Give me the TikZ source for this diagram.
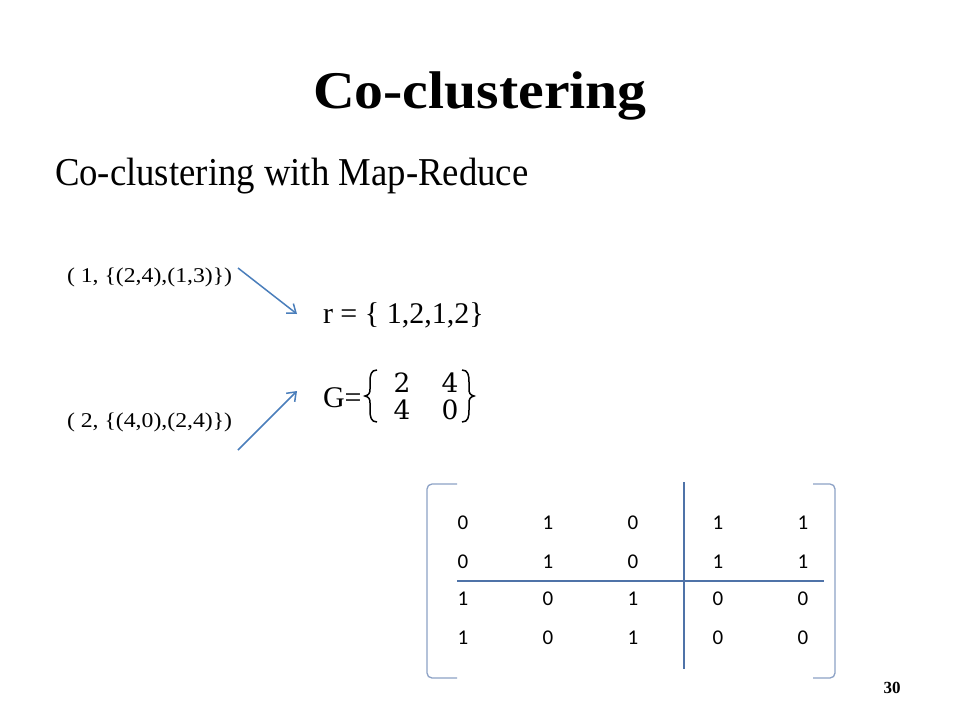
\documentclass[tikz,border=0pt]{standalone}
\usepackage{fontspec}
\setmainfont{Liberation Serif}
\newfontfamily\calib{Carlito}
\newfontfamily\gdig{DejaVu Serif}
\usetikzlibrary{arrows.meta}
\definecolor{arrowblue}{HTML}{4A7EBB}
\definecolor{lineblue}{HTML}{4F73A8}
\definecolor{brackblue}{HTML}{8DA2C6}
\tikzset{
  txt/.style={inner sep=0pt, outer sep=0pt},
  mapar/.style={draw=arrowblue, line width=1.5pt, -{Straight Barb[length=8pt,width=12pt,line width=1.5pt]}},
  cell/.style={inner sep=0pt, font=\calib\fontsize{21}{24}\selectfont},
  gcell/.style={inner sep=0pt, text height=20pt, text depth=0pt, font=\gdig\fontsize{26.5}{28}\selectfont},
  divline/.style={draw=lineblue, line width=2pt},
  brack/.style={draw=brackblue, line width=1.3pt, rounded corners=5pt},
  brace/.style={draw=black, line width=1.5pt}
}
\begin{document}
\begin{tikzpicture}[x=1pt,y=-1pt]
\useasboundingbox[fill=white] (0,0) rectangle (960,720);

\node[txt, anchor=base] (title) at (480,108)
  {\scalebox{1.09}[1]{\fontsize{53}{56}\selectfont\bfseries Co-clustering}};
\node[txt, anchor=base west] (sub) at (55,185)
  {\scalebox{0.93}[1]{\fontsize{39.5}{44}\selectfont Co-clustering with Map-Reduce}};

\node[txt, anchor=base west] (in1) at (67,282)
  {\scalebox{1.13}[1]{\fontsize{21}{24}\selectfont ( 1, \{(2,4),(1,3)\})}};
\node[txt, anchor=base west] (in2) at (67,427)
  {\scalebox{1.13}[1]{\fontsize{21}{24}\selectfont ( 2, \{(4,0),(2,4)\})}};

\node[txt, anchor=base west] (r) at (323,323)
  {\fontsize{30}{33}\selectfont r = \{ 1,2,1,2\}};
\node[txt, anchor=base west] (G) at (323,407)
  {\fontsize{30}{33}\selectfont G=};

\coordinate (a1s) at (238,268);
\coordinate (a1e) at (297,314);
\coordinate (a2s) at (238,450);
\coordinate (a2e) at (297,391);
\draw[mapar] (a1s) -- (a1e);
\draw[mapar] (a2s) -- (a2e);

% G matrix
\node[gcell, anchor=base] (g11) at (402,392) {2};
\node[gcell, anchor=base] (g12) at (450,392) {4};
\node[gcell, anchor=base] (g21) at (402,419) {4};
\node[gcell, anchor=base] (g22) at (450,419) {0};
\draw[brace] (377,370) .. controls (371,370) and (370,375) .. (370,382) -- (370,389)
  .. controls (370,393) and (369,395) .. (365,396)
  .. controls (369,397) and (370,399) .. (370,403) -- (370,410)
  .. controls (370,417) and (371,422) .. (377,422);
\draw[brace] (462,370) .. controls (468,370) and (469,375) .. (469,382) -- (469,389)
  .. controls (469,393) and (470,395) .. (474,396)
  .. controls (470,397) and (469,399) .. (469,403) -- (469,410)
  .. controls (469,417) and (468,422) .. (462,422);

% big matrix
\draw[brack] (457,484) -- (427,484) -- (427,678) -- (457,678);
\draw[brack] (813,484) -- (835,484) -- (835,678) -- (813,678);
\coordinate (vt) at (684,482);
\coordinate (vb) at (684,669);
\coordinate (hl) at (457,581);
\coordinate (hr) at (824,581);
\draw[divline] (vt) -- (vb);
\draw[divline] (hl) -- (hr);

\foreach \r/\y/\vals in {1/523/{0,1,0,1,1}, 2/562/{0,1,0,1,1}, 3/599/{1,0,1,0,0}, 4/638/{1,0,1,0,0}} {
  \foreach \v [count=\c] in \vals {
    \pgfmathsetmacro{\xx}{378+85*\c}
    \node[cell] (m\r\c) at (\xx,\y) {\v};
  }
}

\node[txt] (page) at (892,688) {\fontsize{17}{19}\selectfont\bfseries 30};
\end{tikzpicture}
\end{document}
